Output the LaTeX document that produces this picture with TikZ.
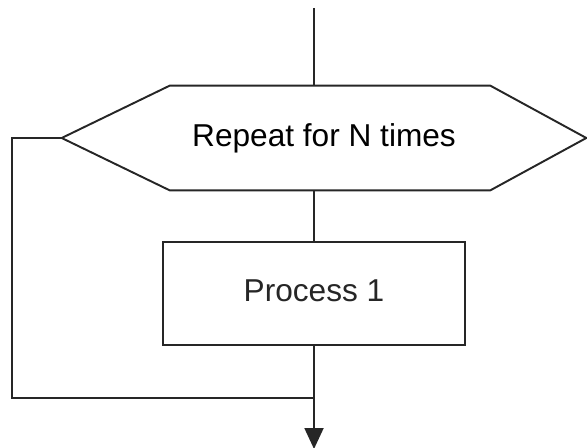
\documentclass[tikz,border=0pt]{standalone}
\usepackage{fontspec}
\setmainfont{Liberation Sans}
\usetikzlibrary{arrows.meta}

\tikzset{
    flow/.style={line width=1.1pt, black!85},
    loopbox/.style={minimum width=10.48cm, minimum height=2.08cm, inner sep=0pt},
    procbox/.style={draw, flow, minimum width=6.04cm, minimum height=2.06cm, inner sep=0pt, text depth=0.35em}
}

\begin{document}
\begin{tikzpicture}[x=0.02cm, y=-0.02cm, font=\fontsize{18}{21}\selectfont]
    \useasboundingbox (0,0) rectangle (587,448);

    % Loop header and body
    \node[loopbox] (rep) at (324,138) {Repeat for N times};
    \node[procbox] (proc) at (314,293.5) {Process 1};

    % hexagon outline around the loop header
    \draw[flow] (rep.west) -- ([xshift=2.16cm]rep.north west) -- ([xshift=-1.92cm]rep.north east)
        -- (rep.east) -- ([xshift=-1.92cm]rep.south east) -- ([xshift=2.16cm]rep.south west) -- cycle;

    \coordinate (top) at (314,8);
    \coordinate (join) at (314,398);
    \coordinate (back) at (12,398);
    \coordinate (out) at (314,449);

    \draw[flow] (top) -- (top |- rep.north);
    \draw[flow] (top |- rep.south) -- (proc.north);
    \draw[flow, -{Triangle[width=0.38cm, length=0.42cm]}] (proc.south) -- (out);
    % repeat path back round the left side
    \draw[flow] (rep.west) -| (back) -- (join);
\end{tikzpicture}
\end{document}
